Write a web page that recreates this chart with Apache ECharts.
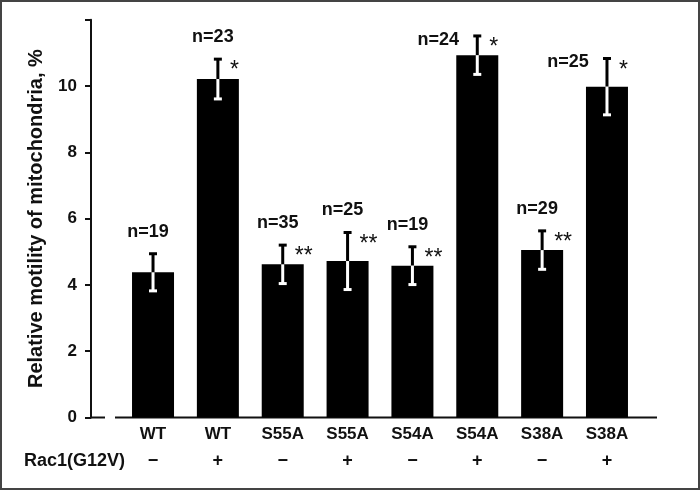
<!DOCTYPE html>
<html>
<head>
<meta charset="utf-8">
<script src="https://cdn.jsdelivr.net/npm/echarts@6/dist/echarts.min.js"></script>
<style>
  html, body { margin: 0; padding: 0; background: #fff; }
  #chart { width: 700px; height: 490px; }
</style>
</head>
<body>
<div id="chart"></div>
<script>
// values
const categories = ['WT', 'WT', 'S55A', 'S55A', 'S54A', 'S54A', 'S38A', 'S38A'];
const rac1Signs = ['−', '+', '−', '+', '−', '+', '−', '+'];
const means = [4.38, 10.21, 4.62, 4.72, 4.58, 10.93, 5.05, 9.98];
const errors = [0.56, 0.60, 0.58, 0.86, 0.57, 0.58, 0.58, 0.85];
const sampleSizes = [19, 23, 35, 25, 19, 24, 29, 25];
const significance = ['', '*', '**', '**', '**', '*', '**', '*'];
const nLabelSide = ['top', 'top', 'top', 'top', 'top', 'left', 'top', 'left'];
const yMax = 12;
const yInterval = 2;

const FONT = 'Arial, "Liberation Sans", Helvetica, sans-serif';
const gridLeft = 120.6, gridRight = 60.6, gridTop = 19.7, gridBottom = 72.5;
const baseY = 490 - gridBottom;

const chart = echarts.init(document.getElementById('chart'));

const option = {
    animation: false,
    backgroundColor: '#fff',
    grid: { left: gridLeft, right: gridRight, top: gridTop, bottom: gridBottom },
    xAxis: {
        type: 'category',
        data: categories,
        axisLine: { show: false },
        axisTick: { show: false },
        axisLabel: {
            interval: 0,
            margin: 4.5,
            formatter: (v, i) => `{a|${v}}\n{b|${rac1Signs[i]}}`,
            rich: {
                a: { fontFamily: FONT, fontWeight: 'bold', fontSize: 17, color: '#111', lineHeight: 24 },
                b: { fontFamily: FONT, fontWeight: 'bold', fontSize: 18, color: '#111', lineHeight: 30 }
            }
        }
    },
    yAxis: {
        type: 'value',
        min: 0,
        max: yMax,
        interval: yInterval,
        offset: 29.6,
        name: 'Relative motility of mitochondria, %',
        nameLocation: 'middle',
        nameRotate: 90,
        nameGap: 45,
        nameTextStyle: { fontFamily: FONT, fontWeight: 'bold', fontSize: 20, color: '#111' },
        axisLine: { show: true, lineStyle: { color: '#111', width: 2 } },
        axisTick: { show: true, length: 6, lineStyle: { color: '#111', width: 2 } },
        splitLine: { show: false },
        axisLabel: {
            margin: 14,
            fontFamily: FONT,
            fontWeight: 'bold',
            fontSize: 17,
            color: '#111',
            formatter: v => (v === yMax ? '' : String(v))
        }
    },
    series: [
        {
            type: 'bar',
            data: means,
            barWidth: 42,
            itemStyle: { color: '#000' },
            z: 2
        },
        {
            type: 'custom',
            z: 3,
            data: means.map((m, i) => [i, m, errors[i]]),
            renderItem: (params, api) => {
                const i = api.value(0);
                const mean = api.value(1);
                const err = api.value(2);
                const top = api.coord([i, mean + err]);
                const mid = api.coord([i, mean]);
                const bot = api.coord([i, mean - err]);
                const x = top[0];
                const cap = 4;
                const children = [
                    { type: 'line', shape: { x1: x, y1: top[1], x2: x, y2: mid[1] }, style: { stroke: '#000', lineWidth: 3 } },
                    { type: 'line', shape: { x1: x, y1: mid[1], x2: x, y2: bot[1] }, style: { stroke: '#fff', lineWidth: 3 } },
                    { type: 'line', shape: { x1: x - cap, y1: top[1], x2: x + cap, y2: top[1] }, style: { stroke: '#000', lineWidth: 3 } },
                    { type: 'line', shape: { x1: x - cap, y1: bot[1], x2: x + cap, y2: bot[1] }, style: { stroke: '#fff', lineWidth: 3 } }
                ];
                const left = nLabelSide[i] === 'left';
                children.push({
                    type: 'text',
                    style: {
                        text: 'n=' + sampleSizes[i],
                        x: left ? x - 39 : x - 5,
                        y: left ? top[1] + 4 : top[1] - 22,
                        textAlign: 'center',
                        textVerticalAlign: 'middle',
                        font: `bold 18px ${FONT}`,
                        fill: '#111'
                    }
                });
                if (significance[i]) {
                    children.push({
                        type: 'text',
                        style: {
                            text: significance[i],
                            x: x + 12,
                            y: top[1] + 12,
                            textAlign: 'left',
                            textVerticalAlign: 'middle',
                            font: `23px ${FONT}`,
                            fill: '#111'
                        }
                    });
                }
                return { type: 'group', children };
            }
        }
    ],
    graphic: [
        { type: 'rect', shape: { x: 1, y: 1, width: 698, height: 488 }, style: { fill: 'none', stroke: '#444', lineWidth: 2 } },
        { type: 'line', shape: { x1: 91, y1: baseY, x2: 105, y2: baseY }, style: { stroke: '#111', lineWidth: 2 } },
        { type: 'line', shape: { x1: 115, y1: baseY, x2: 657, y2: baseY }, style: { stroke: '#111', lineWidth: 2 } },
        {
            type: 'text',
            left: 24,
            top: 452,
            style: { text: 'Rac1(G12V)', font: `bold 18px ${FONT}`, fill: '#111' }
        }
    ]
};

chart.setOption(option);
</script>
</body>
</html>
